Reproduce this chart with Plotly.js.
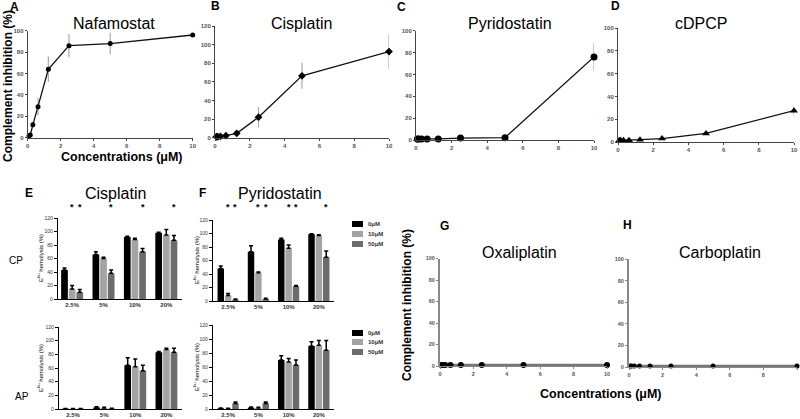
<!DOCTYPE html>
<html><head><meta charset="utf-8">
<script src="https://cdn.plot.ly/plotly-3.0.1.min.js"></script>
<style>html,body{margin:0;padding:0;background:#fff}#chart{width:800px;height:419px}</style>
</head><body><div id="chart"></div>
<script>
// ---------- data ----------
const conc = [0.078, 0.156, 0.3125, 0.625, 1.25, 2.5, 5, 10];
const nafamostat = [1.5, 2.5, 12, 29, 64, 86, 88, 96];
const nafamostatErr = [0.5, 0.5, 3, 8, 12, 11, 10, 2];
const cisplatin = [1, 1, 1.5, 2.2, 4.7, 22, 66.5, 92.5];
const cisplatinErr = [0.5, 0.5, 0.5, 0.5, 1, 11, 14, 18.5];
const pyridostatin = [1, 1, 1, 1, 1, 1.8, 2.1, 76];
const pyridostatinErr = [0, 0, 0, 0, 0, 0.5, 0.5, 12.5];
const cdpcp = [1.5, 1.5, 1.5, 1.5, 2, 3, 7.5, 27.5];
const cdpcpErr = [0, 0, 0, 0, 0.5, 1, 1, 4];
const oxaliplatin = [1, 1, 1, 1, 1, 1, 1, 1];
const carboplatin = [1, 1, 1, 1, 1, 1, 1, 1];

const serumCats = ['2.5%', '5%', '10%', '20%'];
const doseNames = ['0μM', '10μM', '50μM'];
const doseColors = ['#000000', '#a4a4a4', '#6c6c6c'];
// Cisplatin, classical pathway (CP) and alternative pathway (AP)
const cisCP = [[43, 66, 92, 98], [15, 60, 88, 95], [10, 38, 70, 87]];
const cisCPErr = [[3, 4, 1, 1], [5, 2, 2, 8], [4, 5, 5, 7]];
const cisAP = [[0.6, 2.2, 64, 83], [0.4, 1.6, 62, 87], [0.6, 0.6, 56, 83]];
const cisAPErr = [[0.3, 1, 11, 1], [0.3, 1, 11, 2], [0.3, 0.5, 8, 6]];
// Pyridostatin CP and AP
const pyrCP = [[48, 73, 91, 99], [8, 42, 78, 97], [2, 3, 22, 65]];
const pyrCPErr = [[4, 9, 2, 0.5], [3, 1, 5, 1], [1, 1, 1, 9]];
const pyrAP = [[1, 2, 70, 90], [0.6, 1.6, 67, 91], [8, 8, 63, 84]];
const pyrAPErr = [[0.5, 1, 6, 6], [0.5, 1, 5, 7], [2, 2, 7, 14]];
// significance marks: [category index, dose index]
const sigCis = [[0, 1], [0, 2], [1, 2], [2, 2], [3, 2]];
const sigPyr = [[0, 1], [0, 2], [1, 1], [1, 2], [2, 1], [2, 2], [3, 2]];

// ---------- helpers ----------
const W = 800, H = 419;
const xd = (a, b) => [a / W, b / W];
const yd = (top, bottom) => [1 - bottom / H, 1 - top / H];
const px = x => x / W;
const py = y => 1 - y / H;
const FF = 'Liberation Sans, Arial, sans-serif';

const traces = [];
const layout = {
  width: W, height: H, margin: {l: 0, r: 0, t: 0, b: 0},
  paper_bgcolor: '#fff', plot_bgcolor: 'rgba(0,0,0,0)',
  showlegend: false, barmode: 'group', bargap: 0.27, bargroupgap: 0.12,
  annotations: [], shapes: []
};

function lineAxes(n, xdom, ydom, ymax, opts) {
  opts = opts || {};
  const sx = n === 1 ? '' : n;
  const common = {
    showline: true, linecolor: opts.lc || '#444',
    ticks: 'outside', ticklen: 2, tickcolor: opts.lc || '#444', showgrid: false, zeroline: false,
    tickfont: {size: opts.tf || 6, color: '#555', family: FF, weight: 'bold'}, fixedrange: true
  };
  layout['xaxis' + sx] = Object.assign({
    domain: xdom, range: [0, 10], dtick: 2, anchor: 'y' + sx, linewidth: opts.lw || 1
  }, common);
  layout['yaxis' + sx] = Object.assign({
    domain: ydom, range: [0, ymax], dtick: 20, anchor: 'x' + sx, linewidth: opts.ylw || 1
  }, common);
}
function lineTrace(n, y, err, symbol, size, lineColor, lineWidth) {
  const sx = n === 1 ? '' : n;
  const t = {
    x: conc, y: y, type: 'scatter', mode: 'lines+markers',
    xaxis: 'x' + sx, yaxis: 'y' + sx, cliponaxis: false,
    line: {color: lineColor || '#111', width: lineWidth || 1.3},
    marker: {symbol: symbol, size: size, color: '#000'}
  };
  if (err) t.error_y = {type: 'data', array: err, color: '#aaa', thickness: 1.2, width: 0};
  traces.push(t);
}
function label(text, x, y, size, opts) {
  opts = opts || {};
  layout.annotations.push(Object.assign({
    text: text, x: px(x), y: py(y), xref: 'paper', yref: 'paper',
    showarrow: false, xanchor: 'center', yanchor: 'middle',
    font: {size: size, color: '#000', family: FF, weight: opts.bold ? 'bold' : 'normal'}
  }, opts.extra || {}));
}

// ---------- A-D line panels ----------
lineAxes(1, xd(27.7, 192.7), yd(30.7, 137.7), 100);
lineAxes(2, xd(215, 389), yd(26, 137.7), 120);
lineAxes(3, xd(416, 594), yd(30.7, 140), 100);
lineAxes(4, xd(618, 794), yd(28, 142), 100);
lineTrace(1, nafamostat, nafamostatErr, 'circle', 5);
lineTrace(2, cisplatin, cisplatinErr, 'diamond', 6);
lineTrace(3, pyridostatin, pyridostatinErr, 'circle', 7);
lineTrace(4, cdpcp, cdpcpErr, 'triangle-up', 7);

// ---------- G, H panels ----------
lineAxes(9, xd(440, 607), yd(258.5, 366), 100, {lc: '#888', ylw: 2, tf: 5.5});
lineAxes(10, xd(629, 797), yd(259, 367), 100, {lc: '#888', ylw: 2, tf: 5.5});
lineTrace(9, oxaliplatin, null, 'circle', 6, '#777', 2.5);
lineTrace(10, carboplatin, null, 'circle', 5, '#777', 2.5);

// ---------- E, F bar panels ----------
function barAxes(n, xdom, ydom, xrange) {
  layout['xaxis' + n] = {
    domain: xdom, range: xrange, type: 'category', anchor: 'y' + n,
    showline: true, linecolor: '#000', linewidth: 1.2, ticks: '', showgrid: false, zeroline: false,
    tickfont: {size: 6, color: '#333', family: FF, weight: 'bold'}, fixedrange: true
  };
  layout['yaxis' + n] = {
    domain: ydom, range: [0, 120], dtick: 20, anchor: 'x' + n,
    showline: true, linecolor: '#000', linewidth: 1.2, ticks: 'outside', ticklen: 3, tickcolor: '#000',
    showgrid: false, zeroline: false,
    tickfont: {size: 5, color: '#333', family: FF}, fixedrange: true
  };
}
function barTraces(n, vals, errs) {
  for (let i = 0; i < 3; i++) {
    traces.push({
      type: 'bar', x: serumCats, y: vals[i], name: doseNames[i],
      xaxis: 'x' + n, yaxis: 'y' + n,
      marker: {color: doseColors[i], line: {width: 0}},
      error_y: {type: 'data', array: errs[i], arrayminus: errs[i].map(() => 0), symmetric: false,
                color: '#000', thickness: 1.5, width: 2}
    });
  }
}
function sigMarks(n, sig, yPix) {
  const g = layout.bargap, slot = (1 - g) / 3;
  sig.forEach(([c, d]) => {
    layout.annotations.push({
      text: '*', x: c - (1 - g) / 2 + slot * (d + 0.5), y: py(yPix),
      xref: 'x' + n, yref: 'paper', showarrow: false, yanchor: 'middle',
      font: {size: 9, color: '#000', family: FF, weight: 'bold'}
    });
  });
}
barAxes(5, xd(58, 182), yd(218, 299), [-0.45, 3.5]);
barAxes(6, xd(59, 182), yd(327, 409), [-0.45, 3.5]);
barAxes(7, xd(213, 334), yd(220, 301), [-0.5, 3.5]);
barAxes(8, xd(213, 334), yd(325, 409), [-0.5, 3.5]);
barTraces(5, cisCP, cisCPErr);
barTraces(6, cisAP, cisAPErr);
barTraces(7, pyrCP, pyrCPErr);
barTraces(8, pyrAP, pyrAPErr);
sigMarks(5, sigCis, 207);
sigMarks(7, sigPyr, 207);

// legends for F (CP and AP)
function legendBlock(rowsY) {
  rowsY.forEach((y, i) => {
    layout.shapes.push({type: 'rect', xref: 'paper', yref: 'paper',
      x0: px(352), x1: px(363), y0: py(y + 3), y1: py(y - 3),
      fillcolor: doseColors[i], line: {width: 0}});
    layout.annotations.push({text: doseNames[i], x: px(366), y: py(y), xref: 'paper', yref: 'paper',
      showarrow: false, xanchor: 'left', yanchor: 'middle',
      font: {size: 6, color: '#333', family: FF, weight: 'bold'}});
  });
}
legendBlock([224, 234, 244]);
legendBlock([333, 342, 352]);

// ---------- text labels ----------
label('A', 14, 7, 12, {bold: true});
label('B', 215, 6, 12, {bold: true});
label('C', 402, 7, 12, {bold: true});
label('D', 615, 6, 12, {bold: true});
label('E', 29, 193, 12, {bold: true});
label('F', 203, 193, 12, {bold: true});
label('G', 444, 226, 12, {bold: true});
label('H', 627, 225, 12, {bold: true});

label('Nafamostat', 114, 23, 16);
label('Cisplatin', 301, 24, 16);
label('Pyridostatin', 510, 24, 16);
label('cDPCP', 701, 23, 16);
label('Cisplatin', 116, 193, 16);
label('Pyridostatin', 280, 193, 16);
label('Oxaliplatin', 519, 252, 16);
label('Carboplatin', 720, 252, 16);

label('Complement inhibition (%)', 8, 86, 12, {bold: true, extra: {textangle: -90}});
label('Concentrations (μM)', 122, 157, 12.5, {bold: true});
label('Complement inhibition (%)', 407, 305, 12, {bold: true, extra: {textangle: -90}});
label('Concentrations (μM)', 601, 394, 12.5, {bold: true});

label('CP', 16, 260, 10);
label('AP', 22, 396, 10);
const eLab = 'E<sup>hu</sup> hemolysis (%)';
label(eLab, 40, 258, 6, {extra: {textangle: -90}});
label(eLab, 40, 368, 6, {extra: {textangle: -90}});
label(eLab, 196, 260, 6, {extra: {textangle: -90}});
label(eLab, 196, 367, 6, {extra: {textangle: -90}});

Plotly.newPlot('chart', traces, layout, {staticPlot: true, displayModeBar: false});
</script>
</body></html>
